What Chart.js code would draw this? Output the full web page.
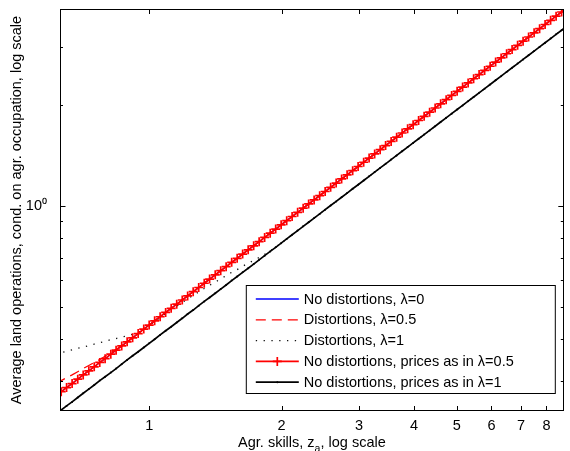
<!DOCTYPE html>
<html>
<head>
<meta charset="utf-8">
<script src="https://cdn.jsdelivr.net/npm/chart.js@4/dist/chart.umd.min.js"></script>
<style>
  html, body { margin: 0; padding: 0; background: #fff; }
  #wrap { width: 570px; height: 451px; }
</style>
</head>
<body>
<div id="wrap"><canvas id="chart" width="570" height="451"></canvas></div>
<script>
// Agricultural skill grid z_a (log-spaced)
const skills = [0.613,0.631,0.649,0.668,0.688,0.708,0.729,0.750,0.772,0.794,0.818,0.841,0.866,0.891,0.917,0.944,0.972,
  1.000,1.029,1.059,1.090,1.122,1.155,1.189,1.223,1.259,1.296,1.334,1.372,1.413,1.454,1.496,1.540,1.585,1.631,1.679,
  1.728,1.778,1.830,1.884,1.939,1.995,2.054,2.113,2.175,2.239,2.304,2.371,2.441,2.512,2.585,2.661,2.738,2.818,2.901,
  2.985,3.073,3.162,3.255,3.350,3.447,3.548,3.652,3.758,3.868,3.981,4.097,4.217,4.340,4.467,4.597,4.732,4.870,5.012,
  5.158,5.309,5.464,5.623,5.788,5.957,6.131,6.310,6.494,6.683,6.879,7.079,7.286,7.499,7.718,7.943,8.175,8.414,8.660,8.913];

// No distortions (λ=0); the "prices as in λ=0.5" counterfactual coincides with it
const noDistortion = [0.270,0.278,0.286,0.294,0.303,0.312,0.321,0.330,0.340,0.349,0.360,0.370,0.381,0.392,0.403,0.415,0.428,
  0.440,0.453,0.466,0.480,0.494,0.508,0.523,0.538,0.554,0.570,0.587,0.604,0.622,0.640,0.658,0.678,0.697,0.718,0.739,
  0.760,0.782,0.805,0.829,0.853,0.878,0.904,0.930,0.957,0.985,1.014,1.043,1.074,1.105,1.137,1.171,1.205,1.240,1.276,
  1.313,1.352,1.391,1.432,1.474,1.517,1.561,1.607,1.654,1.702,1.752,1.803,1.855,1.910,1.965,2.023,2.082,2.143,2.205,
  2.270,2.336,2.404,2.474,2.547,2.621,2.698,2.776,2.857,2.941,3.027,3.115,3.206,3.300,3.396,3.495,3.597,3.702,3.810,3.922];

// Distortions, λ=0.5
const distortionHalf = [0.296,0.300,0.306,0.312,0.319,0.326,0.333,0.340,0.347,0.355,0.364,0.372,0.382,0.392,0.403,0.415,0.428,
  0.440,0.453,0.466,0.480,0.494,0.508,0.523,0.538,0.554,0.570,0.587,0.604,0.622,0.640,0.658,0.678,0.697,0.718,0.739,
  0.760,0.782,0.805,0.829,0.853,0.878,0.904,0.930,0.957,0.985,1.014,1.043,1.074,1.105,1.137,1.171,1.205,1.240,1.276,
  1.313,1.352,1.391,1.432,1.474,1.517,1.561,1.607,1.654,1.702,1.752,1.803,1.855,1.910,1.965,2.023,2.082,2.143,2.205,
  2.270,2.336,2.404,2.474,2.547,2.621,2.698,2.776,2.857,2.941,3.027,3.115,3.206,3.300,3.396,3.495,3.597,3.702,3.810,3.922];

// Distortions, λ=1
const distortionOne = [0.360,0.364,0.367,0.371,0.375,0.378,0.382,0.386,0.390,0.393,0.398,0.401,0.405,0.409,0.413,0.418,0.427,
  0.439,0.451,0.463,0.476,0.489,0.501,0.514,0.527,0.540,0.553,0.566,0.579,0.592,0.605,0.619,0.633,0.645,0.660,0.674,
  0.687,0.701,0.717,0.734,0.753,0.774,0.797,0.820,0.844,0.869,0.894,0.920,0.947,0.975,1.003,1.032,1.062,1.093,1.126,
  1.158,1.192,1.227,1.263,1.300,1.337,1.377,1.417,1.458,1.501,1.545,1.590,1.636,1.684,1.733,1.784,1.836,1.890,1.945,
  2.001,2.060,2.120,2.182,2.246,2.311,2.379,2.448,2.520,2.593,2.669,2.747,2.827,2.910,2.995,3.082,3.172,3.265,3.360,3.458];

// No distortions, prices as in λ=1
const pricesOne = [0.238,0.245,0.252,0.259,0.267,0.275,0.283,0.291,0.300,0.308,0.317,0.326,0.336,0.346,0.356,0.366,0.377,
  0.388,0.399,0.411,0.423,0.435,0.448,0.461,0.475,0.488,0.503,0.518,0.532,0.548,0.564,0.580,0.598,0.615,0.633,0.651,
  0.670,0.690,0.710,0.731,0.752,0.774,0.797,0.820,0.844,0.869,0.894,0.920,0.947,0.975,1.003,1.032,1.062,1.093,1.126,
  1.158,1.192,1.227,1.263,1.300,1.337,1.377,1.417,1.458,1.501,1.545,1.590,1.636,1.684,1.733,1.784,1.836,1.890,1.945,
  2.001,2.060,2.120,2.182,2.246,2.311,2.379,2.448,2.520,2.593,2.669,2.747,2.827,2.910,2.995,3.082,3.172,3.265,3.360,3.458];

const seriesLabels = ['No distortions, λ=0', 'Distortions, λ=0.5', 'Distortions, λ=1',
  'No distortions, prices as in λ=0.5', 'No distortions, prices as in λ=1'];

const xTickValues = [1, 2, 3, 4, 5, 6, 7, 8];
const yTickValues = [0.3, 0.4, 0.5, 0.6, 0.7, 0.8, 0.9, 1, 2, 3];
const yMajorTicks = [1];
const xRange = [0.627, 8.76];
const yRange = [0.2433, 3.889];

const FONT = '"Liberation Sans", Arial, Helvetica, sans-serif';
const toPoints = ys => skills.map((z, i) => ({ x: z, y: ys[i] }));

// Boxed axes with inward ticks on all four sides
const boxTicks = {
  id: 'boxTicks',
  afterDatasetsDraw(chart) {
    const { ctx, chartArea: a, scales: { x, y } } = chart;
    ctx.save();
    ctx.strokeStyle = '#000';
    ctx.lineWidth = 1;
    ctx.beginPath();
    xTickValues.forEach(v => {
      const px = Math.round(x.getPixelForValue(v)) + 0.5;
      ctx.moveTo(px, a.bottom); ctx.lineTo(px, a.bottom - 5);
      ctx.moveTo(px, a.top); ctx.lineTo(px, a.top + 5);
    });
    yTickValues.forEach(v => {
      const py = Math.round(y.getPixelForValue(v)) + 0.5;
      const len = yMajorTicks.includes(v) ? 5.5 : 3;
      ctx.moveTo(a.left, py); ctx.lineTo(a.left + len, py);
      ctx.moveTo(a.right, py); ctx.lineTo(a.right - len, py);
    });
    ctx.stroke();
    ctx.strokeRect(Math.round(a.left) + 0.5, Math.round(a.top) + 0.5,
                   Math.round(a.right - a.left) - 1, Math.round(a.bottom - a.top) - 1);
    ctx.restore();
  }
};

// Legend box in the lower-right corner of the plot
const boxLegend = {
  id: 'boxLegend',
  afterDraw(chart) {
    const { ctx, chartArea: a } = chart;
    const right = a.right - 9, bottom = a.bottom - 18;
    const w = 309, h = 108;
    const left = right - w, top = bottom - h;
    ctx.save();
    ctx.fillStyle = '#fff';
    ctx.fillRect(left, top, w, h);
    ctx.strokeStyle = '#000';
    ctx.lineWidth = 1;
    ctx.setLineDash([]);
    ctx.strokeRect(left + 0.5, top + 0.5, w, h);
    ctx.font = '14.5px ' + FONT;
    ctx.textBaseline = 'middle';
    ctx.textAlign = 'left';
    chart.data.datasets.forEach((ds, i) => {
      const cy = top + 14 + i * 20.8;
      const x0 = left + 10, x1 = left + 53, xm = (x0 + x1) / 2;
      ctx.strokeStyle = ds.borderColor;
      ctx.lineWidth = ds.borderWidth;
      ctx.setLineDash(ds.borderDash || []);
      ctx.beginPath(); ctx.moveTo(x0, cy); ctx.lineTo(x1, cy); ctx.stroke();
      ctx.setLineDash([]);
      if (ds.pointStyle === 'cross' && ds.pointRadius > 0) {
        const r = ds.pointRadius;
        ctx.lineWidth = ds.pointBorderWidth;
        ctx.beginPath();
        ctx.moveTo(xm - r, cy); ctx.lineTo(xm + r, cy);
        ctx.moveTo(xm, cy - r); ctx.lineTo(xm, cy + r);
        ctx.stroke();
      } else if (ds.pointRadius > 0) {
        ctx.fillStyle = ds.pointBackgroundColor;
        ctx.beginPath(); ctx.arc(xm, cy, ds.pointRadius, 0, Math.PI * 2); ctx.fill();
      }
      ctx.fillStyle = '#000';
      ctx.fillText(ds.label, x1 + 5, cy + 0.5);
    });
    ctx.restore();
  }
};

// Axis titles (x title carries a subscript)
const axisTitles = {
  id: 'axisTitles',
  afterDraw(chart) {
    const { ctx, chartArea: a } = chart;
    ctx.save();
    ctx.fillStyle = '#000';
    ctx.textBaseline = 'alphabetic';
    const big = '14.5px ' + FONT, small = '10.5px ' + FONT;
    const p1 = 'Agr. skills, z', p2 = 'a', p3 = ', log scale';
    ctx.font = big; const w1 = ctx.measureText(p1).width, w3 = ctx.measureText(p3).width;
    ctx.font = small; const w2 = ctx.measureText(p2).width;
    let xs = (a.left + a.right) / 2 - (w1 + w2 + w3) / 2;
    const base = 447;
    ctx.textAlign = 'left';
    ctx.font = big; ctx.fillText(p1, xs, base); xs += w1;
    ctx.font = small; ctx.fillText(p2, xs, base + 5); xs += w2;
    ctx.font = big; ctx.fillText(p3, xs, base);

    ctx.translate(17, (a.top + a.bottom) / 2);
    ctx.rotate(-Math.PI / 2);
    ctx.textAlign = 'center';
    ctx.textBaseline = 'middle';
    ctx.font = big;
    ctx.fillText('Average land operations, cond. on agr. occupation, log scale', 0, 0);
    ctx.restore();
  }
};

new Chart(document.getElementById('chart'), {
  type: 'line',
  data: {
    datasets: [
      { label: seriesLabels[0], data: toPoints(noDistortion), borderColor: '#0000ff', borderWidth: 1.3,
        pointRadius: 0, order: 4 },
      { label: seriesLabels[1], data: toPoints(distortionHalf), borderColor: '#ff0000', borderWidth: 1.3,
        borderDash: [10, 6], pointRadius: 0, order: 3 },
      { label: seriesLabels[2], data: toPoints(distortionOne), borderColor: '#111', borderWidth: 1.3,
        borderDash: [1.3, 6.5], pointRadius: 0, order: 2 },
      { label: seriesLabels[3], data: toPoints(noDistortion), borderColor: '#ff0000', borderWidth: 1.6,
        pointStyle: 'cross', pointRadius: 4.5, pointBorderWidth: 1.7, pointBorderColor: '#ff0000', order: 1 },
      { label: seriesLabels[4], data: toPoints(pricesOne), borderColor: '#000', borderWidth: 1.7,
        pointStyle: 'circle', pointRadius: 1, pointBorderWidth: 0, pointBackgroundColor: '#000', order: 0 }
    ]
  },
  options: {
    responsive: false,
    animation: false,
    devicePixelRatio: 1,
    layout: { padding: { top: 9, right: 2, left: 0, bottom: 0 } },
    plugins: { legend: { display: false }, tooltip: { enabled: false } },
    elements: { line: { tension: 0 } },
    scales: {
      x: {
        type: 'logarithmic',
        bounds: 'data',
        min: xRange[0], max: xRange[1],
        grid: { display: false, drawTicks: false },
        border: { display: false },
        afterBuildTicks: s => { s.ticks = xTickValues.map(v => ({ value: v })); },
        afterFit: s => { s.height = 40; s.paddingLeft = 0; s.paddingRight = 0; },
        ticks: {
          autoSkip: false, maxRotation: 0, padding: 6, color: '#000',
          font: { family: FONT, size: 14.5 },
          callback: v => String(v)
        }
      },
      y: {
        type: 'logarithmic',
        bounds: 'data',
        min: yRange[0], max: yRange[1],
        grid: { display: false, drawTicks: false },
        border: { display: false },
        afterBuildTicks: s => { s.ticks = yTickValues.map(v => ({ value: v })); },
        afterFit: s => { s.width = 60; s.paddingTop = 0; s.paddingBottom = 0; },
        ticks: {
          autoSkip: false, padding: 13, color: '#000',
          font: { family: FONT, size: 14.5 },
          callback: v => (yMajorTicks.includes(v) ? '10⁰' : '')
        }
      }
    }
  },
  plugins: [boxTicks, boxLegend, axisTitles]
});
</script>
</body>
</html>
